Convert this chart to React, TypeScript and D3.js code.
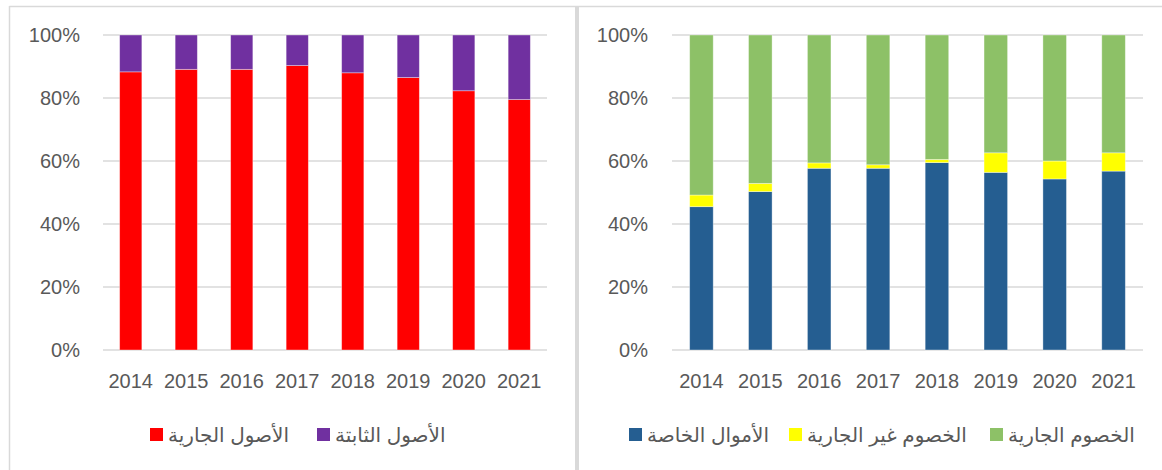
import React from "react";
import * as d3 from "d3";

const years = ["2014", "2015", "2016", "2017", "2018", "2019", "2020", "2021"];

// left chart (% of total assets)
const currentAssets = [88.3, 89.1, 89.1, 90.3, 88.0, 86.5, 82.3, 79.5];
const fixedAssets = [11.7, 10.9, 10.9, 9.7, 12.0, 13.5, 17.7, 20.5];

// right chart (% of total liabilities + equity)
const equity = [45.5, 50.3, 57.7, 57.7, 59.5, 56.4, 54.3, 56.8];
const nonCurrentLiab = [3.7, 2.6, 1.7, 1.1, 1.0, 6.2, 5.7, 5.8];
const currentLiab = [50.8, 47.1, 40.6, 41.2, 39.5, 37.4, 40.0, 37.4];

const yTicks = [0, 20, 40, 60, 80, 100];

const leftSeries = [
  { key: "الأصول الجارية", values: currentAssets, color: "#ff0000" },
  { key: "الأصول الثابتة", values: fixedAssets, color: "#7030a0" },
];
const rightSeries = [
  { key: "الأموال الخاصة", values: equity, color: "#255e91" },
  { key: "الخصوم غير الجارية", values: nonCurrentLiab, color: "#ffff00" },
  { key: "الخصوم الجارية", values: currentLiab, color: "#8dc167" },
];

const W = 1162, H = 470;
const top = 35, bottom = 350;
const grey = "#595959";
const font = "'Liberation Sans', 'DejaVu Sans', sans-serif";

type Series = { key: string; values: number[]; color: string };

function StackChart({ series, x0, x1, labelX, legendX }: { series: Series[]; x0: number; x1: number; labelX: number; legendX: number[] }) {
  const x = d3.scaleBand().domain(years).range([x0, x1]).paddingInner(0.6).paddingOuter(0.3);
  const y = d3.scaleLinear().domain([0, 100]).range([bottom, top]);
  const rows = years.map((yr, i) => {
    const r: any = { year: yr };
    series.forEach(s => (r[s.key] = s.values[i]));
    return r;
  });
  const stacked = d3.stack().keys(series.map(s => s.key))(rows);

  return (
    <g>
      {yTicks.map(t => (
        <g key={t}>
          <line x1={x0} x2={x1} y1={y(t)} y2={y(t)} stroke="#d9d9d9" strokeWidth={1.5} />
          <text x={labelX} y={y(t)} dy="0.36em" textAnchor="end" fontSize={20} fill={grey} fontFamily={font}>
            {t}%
          </text>
        </g>
      ))}
      {stacked.map((layer, li) => (
        <g key={layer.key} fill={series[li].color}>
          {layer.map((d: any) => (
            <rect
              key={d.data.year}
              x={x(d.data.year)}
              y={y(d[1])}
              width={x.bandwidth()}
              height={y(d[0]) - y(d[1])}
              stroke="#ffffff"
              strokeOpacity={0.45}
              strokeWidth={0.8}
            />
          ))}
        </g>
      ))}
      {years.map(yr => (
        <text key={yr} x={(x(yr) as number) + x.bandwidth() / 2} y={388} textAnchor="middle" fontSize={20} fill={grey} fontFamily={font}>
          {yr}
        </text>
      ))}
      {series.map((s, i) => (
        <g key={s.key} transform={`translate(${legendX[i]},428)`}>
          <rect width={13} height={13} fill={s.color} />
          <text x={18} y={6.5} dy="0.36em" fontSize={20} fill={grey} fontFamily={font} direction="rtl" textAnchor="end">
            {s.key}
          </text>
        </g>
      ))}
    </g>
  );
}

export default function App() {
  return (
    <svg width={W} height={H} style={{ position: "absolute", left: 0, top: 0, background: "#fff" }}>
      <rect x={0} y={0} width={W} height={H} fill="#fff" />
      <line x1={9.5} x2={W} y1={6.5} y2={6.5} stroke="#d9d9d9" strokeWidth={1.5} />
      <line x1={9.5} x2={9.5} y1={6} y2={H} stroke="#d9d9d9" strokeWidth={1.5} />
      <line x1={577} x2={577} y1={6} y2={H} stroke="#d9d9d9" strokeWidth={4} />
      <StackChart series={leftSeries} x0={103} x1={547} labelX={80} legendX={[150, 317]} />
      <StackChart series={rightSeries} x0={672} x1={1143} labelX={648} legendX={[629, 789, 990]} />
    </svg>
  );
}
